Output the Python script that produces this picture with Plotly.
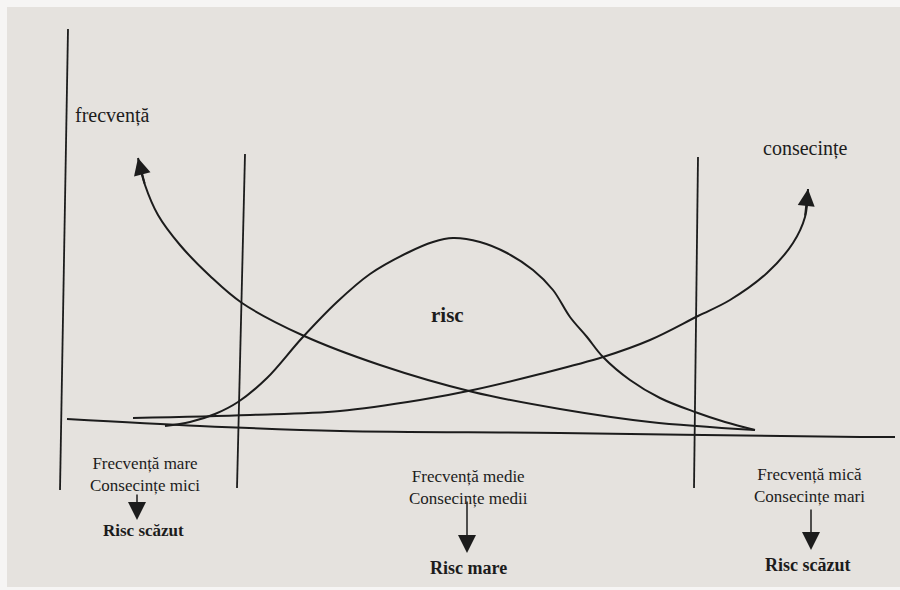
import plotly.graph_objects as go

# ---------------- data (x to the right, y downward) ----------------
freq_x = [138, 145, 158, 180, 210, 242, 302, 380, 473, 560, 650, 755]
freq_y = [158, 185, 215, 245, 276, 303, 335, 365, 392, 409, 422, 430]

cons_x = [133, 250, 340, 420, 473, 540, 603, 650, 698, 730, 767, 793, 805, 808]
cons_y = [418, 415, 411, 400, 390, 374, 357, 340, 316, 300, 273, 243, 217, 189]

risk_x = [165, 190, 215, 238, 267, 302, 337, 370, 407, 433, 453, 480, 507, 533, 553,
          570, 587, 603, 630, 660, 695, 725, 755]
risk_y = [426, 422, 414, 402, 378, 338, 302, 274, 253, 242, 238, 242, 253, 270, 290,
          317, 337, 357, 380, 398, 412, 422, 430]

base_x = [67, 200, 340, 560, 860, 895]
base_y = [419, 426, 431, 433, 437, 437]

axis_x = [68, 60]
axis_y = [29, 490]
limit1_x = [245, 237]
limit1_y = [154, 488]
limit2_x = [698, 694]
limit2_y = [157, 488]

curve_names = ["frecvență", "consecințe", "risc"]
zone_labels = ["Frecvență mare<br>Consecințe mici",
               "Frecvență medie<br>Consecințe medii",
               "Frecvență mică<br>Consecințe mari"]
risk_labels = ["Risc scăzut", "Risc mare", "Risc scăzut"]

# ---------------- styling / layout positions ----------------
INK = "#1c1c1c"
PAPER = "#e5e2de"
SERIF = "Liberation Serif, Times New Roman, serif"

fig = go.Figure()

def line(x, y, w=2.0, shape="spline"):
    fig.add_trace(go.Scatter(x=x, y=y, mode="lines",
                             line=dict(color=INK, width=w, shape=shape, smoothing=1.0),
                             hoverinfo="skip", showlegend=False))

line(axis_x, axis_y, 1.8, "linear")
line(limit1_x, limit1_y, 1.8, "linear")
line(limit2_x, limit2_y, 1.8, "linear")
line(base_x, base_y, 2.0)
line(freq_x, freq_y, 2.0)
line(cons_x, cons_y, 2.0)
line(risk_x, risk_y, 2.0)

annotations = []

# arrowheads at the ends of the frequency (start) and consequence (end) curves
arrow_ends = [(freq_x[0], freq_y[0], freq_x[1], freq_y[1]),
              (cons_x[-1], cons_y[-1], cons_x[-2], cons_y[-2])]
for tx, ty, sx, sy in arrow_ends:
    annotations.append(dict(x=tx, y=ty, ax=sx, ay=sy,
                            xref="x", yref="y", axref="x", ayref="y",
                            text="", showarrow=True, arrowhead=2,
                            arrowsize=1.7, arrowwidth=2, arrowcolor=INK, standoff=0))

# curve names
name_pos = [(112, 115, 20, False), (805, 148, 20, False), (447, 315, 21, True)]
for name, (x, y, s, b) in zip(curve_names, name_pos):
    annotations.append(dict(x=x, y=y, xref="x", yref="y", showarrow=False,
                            text=f"<b>{name}</b>" if b else name,
                            font=dict(family=SERIF, size=s, color=INK)))

# zone labels with down arrows to the risk level
zone_pos = [(145, 474.5), (468, 487.5), (809, 485.5)]
arrow_pos = [(137, 493, 520), (467, 500, 553), (811, 508, 550)]
risk_pos = [(143, 530, 17), (468, 568, 18), (807, 565, 18)]
for zl, rl, (zx, zy), (axx, a0, a1), (rx, ry, rs) in zip(zone_labels, risk_labels,
                                                         zone_pos, arrow_pos, risk_pos):
    annotations.append(dict(x=zx, y=zy, xref="x", yref="y", showarrow=False,
                            text=zl, align="center",
                            font=dict(family=SERIF, size=17, color=INK)))
    annotations.append(dict(x=axx, y=a1, ax=axx, ay=a0,
                            xref="x", yref="y", axref="x", ayref="y",
                            text="", showarrow=True, arrowhead=2,
                            arrowsize=2.4, arrowwidth=1.5, arrowcolor=INK, standoff=0))
    annotations.append(dict(x=rx, y=ry, xref="x", yref="y", showarrow=False,
                            text=f"<b>{rl}</b>",
                            font=dict(family=SERIF, size=rs, color=INK)))

fig.update_layout(
    width=900, height=590,
    margin=dict(l=7, r=0, t=7, b=3),
    paper_bgcolor="#f6f5f4",
    plot_bgcolor=PAPER,
    xaxis=dict(range=[7, 900], visible=False, fixedrange=True),
    yaxis=dict(range=[587, 7], visible=False, fixedrange=True),
    annotations=annotations,
    showlegend=False,
    hovermode=False,
)

fig.write_html("out.html",
               config={"displayModeBar": False, "staticPlot": True},
               post_script="document.body.style.margin='0';document.body.style.padding='0';")
